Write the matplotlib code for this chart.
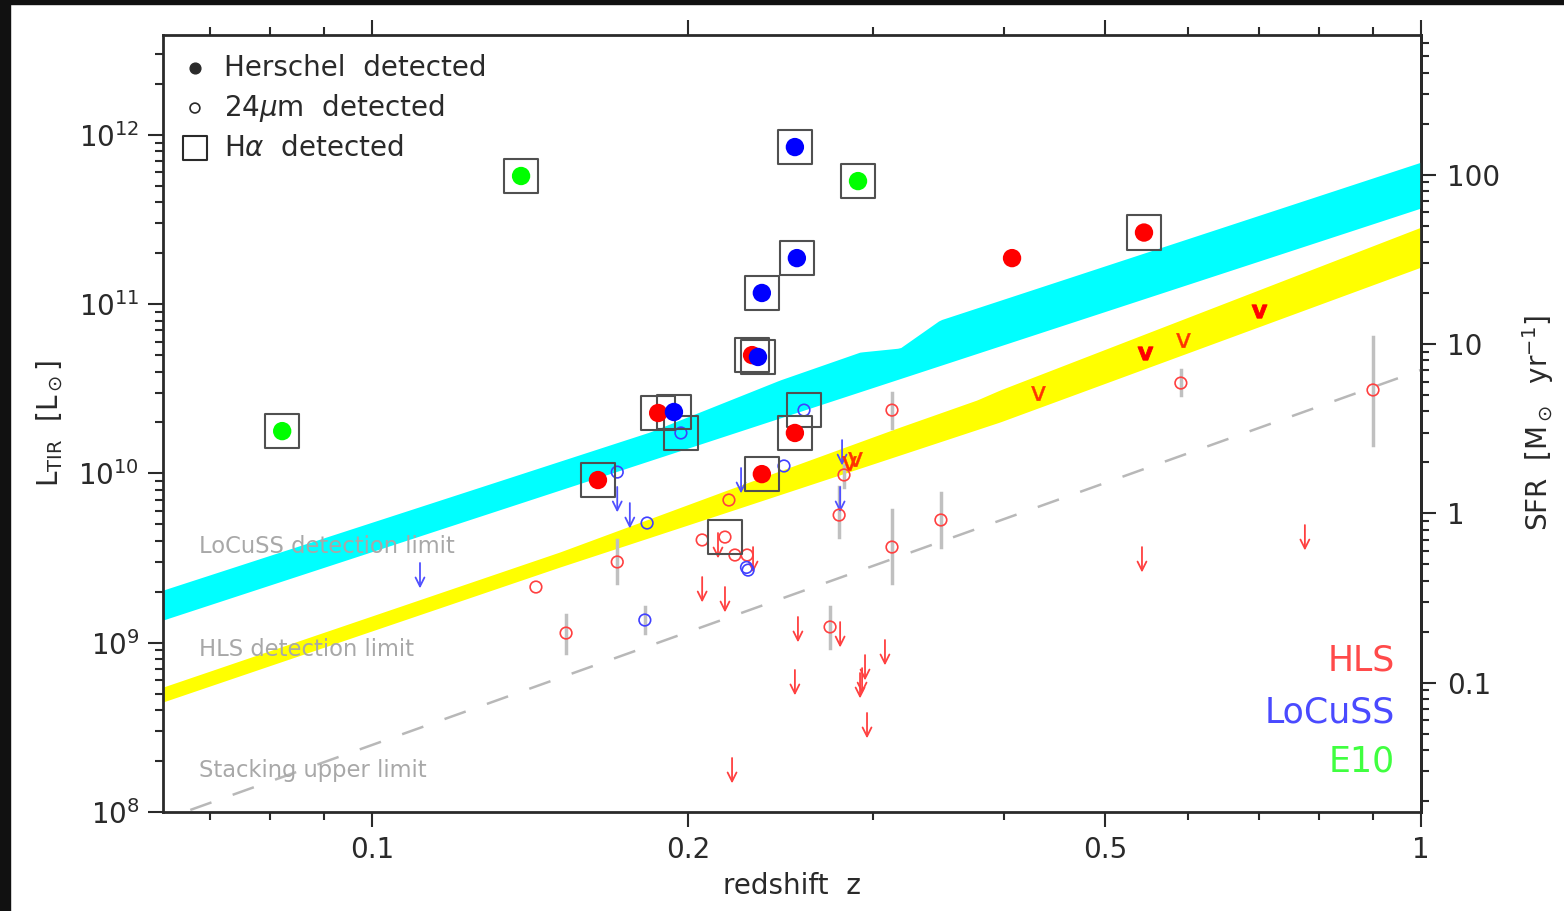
import numpy as np
import matplotlib
matplotlib.use("Agg")
import matplotlib.pyplot as plt
from matplotlib.ticker import FixedLocator, NullFormatter, LogLocator
from matplotlib.patches import Rectangle

# ---- detection-limit bands (redshift, log10 L_TIR) ----
locuss_top_z = [0.0632, 0.184, 0.2448, 0.2919, 0.3187, 0.3478, 1.0]
locuss_top_logL = [9.311, 10.245, 10.552, 10.717, 10.741, 10.906, 11.839]
locuss_bot_z = [0.0632, 1.0]
locuss_bot_logL = [9.134, 11.568]

hls_top_z = [0.0632, 0.151, 0.2181, 0.3187, 0.3773, 0.3969, 1.0]
hls_top_logL = [8.738, 9.536, 9.902, 10.274, 10.434, 10.493, 11.455]
hls_bot_z = [0.0632, 0.151, 0.2181, 0.3969, 1.0]
hls_bot_logL = [8.650, 9.447, 9.772, 10.304, 11.219]

stack_z = [0.0671, 1.0]
stack_logL = [8.012, 10.611]

# ---- Herschel detected (filled) ----
hls_det_z = [0.1642, 0.1874, 0.2303, 0.2530, 0.2353, 0.4075, 0.5444]
hls_det_logL = [9.961, 10.357, 10.699, 10.239, 9.996, 11.272, 11.423]
hls_det_ha = [1, 1, 1, 1, 1, 0, 1]

locuss_det_z = [0.2530, 0.2541, 0.2353, 0.2333, 0.1940]
locuss_det_logL = [11.928, 11.272, 11.066, 10.688, 10.363]
locuss_det_ha = [1, 1, 1, 1, 1]

e10_det_z = [0.0821, 0.1387, 0.2906]
e10_det_logL = [10.250, 11.757, 11.727]
e10_det_ha = [1, 1, 1]

# ---- 24um detected (open), with error bars where drawn ----
hls_24_z = [0.1433, 0.1531, 0.1713, 0.2064, 0.2170, 0.2218, 0.2278, 0.2189,
            0.2733, 0.2788, 0.2818, 0.3131, 0.3131, 0.3486, 0.5903, 0.9000]
hls_24_logL = [9.329, 9.057, 9.477, 9.607, 9.624, 9.518, 9.518, 9.843,
               9.093, 9.754, 9.991, 9.565, 10.374, 9.725, 10.534, 10.493]
hls_24_lo = [None, 8.939, 9.353, None, None, None, None, None,
             8.969, 9.624, 9.92, 9.353, 10.268, 9.565, 10.463, 10.168]
hls_24_hi = [None, 9.164, 9.607, None, None, None, None, None,
             9.211, 9.920, 10.05, 9.784, 10.475, 9.884, 10.611, 10.806]
hls_24_ha = [0, 0, 0, 0, 1, 0, 0, 0, 0, 0, 0, 0, 0, 0, 0, 0]

locuss_24_z = [0.1713, 0.1829, 0.1820, 0.1970, 0.2470, 0.2581, 0.2283, 0.2275]
locuss_24_logL = [10.008, 9.707, 9.134, 10.239, 10.044, 10.374, 9.429, 9.445]
locuss_24_lo = [None, None, 9.057, None, None, None, None, None]
locuss_24_hi = [None, None, 9.211, None, None, None, None, None]
locuss_24_ha = [0, 0, 0, 1, 0, 1, 0, 0]

# ---- upper limits ----
hls_lim_z = [0.2308, 0.2137, 0.2064, 0.2170, 0.2547, 0.2794, 0.3083, 0.2951,
             0.2919, 0.2932, 0.2530, 0.2964, 0.2204, 0.5420, 0.7750]
hls_lim_logL = [9.565, 9.648, 9.388, 9.329, 9.152, 9.122, 9.016, 8.927,
                8.821, 8.850, 8.839, 8.585, 8.319, 9.565, 9.695]

locuss_lim_z = [0.1111, 0.1713, 0.1761, 0.2248, 0.2806, 0.2794]
locuss_lim_logL = [9.471, 9.920, 9.825, 10.032, 10.197, 9.920]

hls_v_z = [0.4313, 0.5457, 0.5929, 0.7006, 0.2850, 0.2885]
hls_v_logL = [10.475, 10.711, 10.788, 10.959, 10.060, 10.085]
hls_v_bold = [0, 1, 0, 1, 0, 0]

RED = "#ff0000"
BLUE = "#0000ff"
GREEN = "#00ff00"
GREY = "#a8a8a8"
INK = "#2a2a2a"

plt.rcParams["font.family"] = "DejaVu Sans"
plt.rcParams["text.color"] = INK
plt.rcParams["axes.labelcolor"] = INK
plt.rcParams["xtick.color"] = INK
plt.rcParams["ytick.color"] = INK

fig = plt.figure(figsize=(15.64, 9.11), dpi=100)
ax = fig.add_axes([163 / 1564, 99 / 911, 1258 / 1564, 777 / 911])

L = lambda a: 10 ** np.asarray(a, dtype=float)

# bands
zz = np.logspace(np.log10(0.0632), 0, 400)
def band(zt, lt, zb, lb):
    top = np.interp(np.log10(zz), np.log10(zt), lt)
    bot = np.interp(np.log10(zz), np.log10(zb), lb)
    return L(bot), L(top)

b, t = band(locuss_top_z, locuss_top_logL, locuss_bot_z, locuss_bot_logL)
ax.fill_between(zz, b, t, color="#00ffff", lw=0, zorder=1)
b, t = band(hls_top_z, hls_top_logL, hls_bot_z, hls_bot_logL)
ax.fill_between(zz, b, t, color="#ffff00", lw=0, zorder=1)
ax.plot(stack_z, L(stack_logL), color="#b8b8b8", lw=1.8, dashes=(9, 9), zorder=1)

# error bars
def errs(z, lo, hi):
    for zi, a, c in zip(z, lo, hi):
        if a is not None:
            ax.plot([zi, zi], [10 ** a, 10 ** c], color="#c0c0c0", lw=2.5, zorder=2)

errs(hls_24_z, hls_24_lo, hls_24_hi)
errs(locuss_24_z, locuss_24_lo, locuss_24_hi)

# arrows for upper limits
def arrows(z, lg, color):
    for zi, li in zip(z, lg):
        ax.annotate("", xy=(zi, 10 ** (li - 0.15)), xytext=(zi, 10 ** li),
                    arrowprops=dict(arrowstyle="->", color=color, lw=1.3,
                                    shrinkA=0, shrinkB=0, mutation_scale=16),
                    zorder=3)

arrows(hls_lim_z, hls_lim_logL, "#ff4040")
arrows(locuss_lim_z, locuss_lim_logL, "#5050ff")

vz = np.asarray(hls_v_z)
vl = L(hls_v_logL)
vb = np.asarray(hls_v_bold, dtype=bool)
ax.scatter(vz[~vb], vl[~vb], s=110, marker=r"$\mathsf{v}$", color="#ff3300",
           linewidths=0.3, zorder=3)
ax.scatter(vz[vb], vl[vb], s=120, marker=r"$\mathbf{v}$", color=RED,
           linewidths=0.6, zorder=3)

# open circles
ax.scatter(hls_24_z, L(hls_24_logL), s=70, facecolors="none", edgecolors="#ff4040",
           linewidths=1.2, zorder=4)
ax.scatter(locuss_24_z, L(locuss_24_logL), s=70, facecolors="none", edgecolors="#4040ff",
           linewidths=1.2, zorder=4)

# filled circles
for z, lg, c in [(hls_det_z, hls_det_logL, RED), (locuss_det_z, locuss_det_logL, BLUE),
                 (e10_det_z, e10_det_logL, GREEN)]:
    ax.scatter(z, L(lg), s=175, color=c, edgecolors="none", zorder=5)

# H-alpha squares
for z, lg, ha in [(hls_det_z, hls_det_logL, hls_det_ha),
                  (locuss_det_z, locuss_det_logL, locuss_det_ha),
                  (e10_det_z, e10_det_logL, e10_det_ha),
                  (hls_24_z, hls_24_logL, hls_24_ha),
                  (locuss_24_z, locuss_24_logL, locuss_24_ha)]:
    sel = np.asarray(ha, dtype=bool)
    ax.scatter(np.asarray(z)[sel], L(lg)[sel], s=620, marker="s", facecolors="none",
               edgecolors="#505050", linewidths=1.5, zorder=4.5)

ax.set_xscale("log")
ax.set_yscale("log")
ax.set_xlim(0.0632, 1.0)
ax.set_ylim(1e8, 10 ** 12.59)

ax.xaxis.set_major_locator(FixedLocator([0.1, 0.2, 0.5, 1.0]))
ax.set_xticklabels(["0.1", "0.2", "0.5", "1"])
ax.xaxis.set_minor_locator(FixedLocator([0.07, 0.08, 0.09, 0.3, 0.4, 0.6, 0.7, 0.8, 0.9]))
ax.xaxis.set_minor_formatter(NullFormatter())
ax.yaxis.set_minor_locator(LogLocator(base=10, subs=np.arange(2, 10)))
ax.yaxis.set_minor_formatter(NullFormatter())

ax.tick_params(which="both", direction="out", top=True, right=False, width=1.5,
               labelsize=20, pad=6)
ax.tick_params(which="major", length=11)
ax.tick_params(which="minor", length=6)
for s in ax.spines.values():
    s.set_linewidth(2)
    s.set_color(INK)

sfr = ax.secondary_yaxis("right", functions=(lambda x: x * 1.72e-10, lambda x: x / 1.72e-10))
sfr.yaxis.set_major_locator(FixedLocator([0.1, 1, 10, 100]))
sfr.set_yticklabels(["0.1", "1", "10", "100"])
sfr.yaxis.set_minor_locator(LogLocator(base=10, subs=np.arange(2, 10)))
sfr.yaxis.set_minor_formatter(NullFormatter())
sfr.tick_params(which="both", direction="out", width=1.5, labelsize=20, pad=8)
sfr.tick_params(which="major", length=11)
sfr.tick_params(which="minor", length=6)
sfr.spines["right"].set_linewidth(2)
sfr.set_ylabel(r"SFR  [M$_\odot$  yr$^{-1}$]", fontsize=20, labelpad=14)

ax.set_xlabel("redshift  z", fontsize=20, labelpad=6)
ax.set_ylabel(r"L$_{\rm TIR}$  [L$_\odot$]", fontsize=20, labelpad=10)

# limit labels
for y, txt in [(0.342, "LoCuSS detection limit"), (0.2085, "HLS detection limit"),
               (0.0528, "Stacking upper limit")]:
    ax.text(0.029, y, txt, transform=ax.transAxes, color=GREY, fontsize=16.3,
            va="center", ha="left", zorder=6)

# symbol key
ax.scatter([0.0254], [0.9575], s=60, color=INK, transform=ax.transAxes, zorder=6)
ax.scatter([0.0254], [0.906], s=50, facecolors="none", edgecolors=INK, linewidths=1.2,
           transform=ax.transAxes, zorder=6)
ax.scatter([0.0254], [0.8546], s=320, marker="s", facecolors="none", edgecolors=INK,
           linewidths=1.5, transform=ax.transAxes, zorder=6)
for y, txt in [(0.9575, "Herschel  detected"), (0.906, r"24$\mu$m  detected"),
               (0.8546, r"H$\alpha$  detected")]:
    ax.text(0.0485, y, txt, transform=ax.transAxes, fontsize=20, va="center", ha="left")

# survey key
for y, txt, c in [(0.1956, "HLS", "#ff4a4a"), (0.1287, "LoCuSS", "#4a4aff"),
                  (0.0644, "E10", "#40ff40")]:
    ax.text(0.979, y, txt, transform=ax.transAxes, color=c, fontsize=25,
            va="center", ha="right")

# dark frame strips along the left and top edges
fig.patches.append(Rectangle((0, 0), 10 / 1564, 1, transform=fig.transFigure,
                             color="#111111", zorder=10))
fig.patches.append(Rectangle((0, 1 - 4 / 911), 1, 4 / 911, transform=fig.transFigure,
                             color="#111111", zorder=10))

fig.savefig("out.png", dpi=100)
